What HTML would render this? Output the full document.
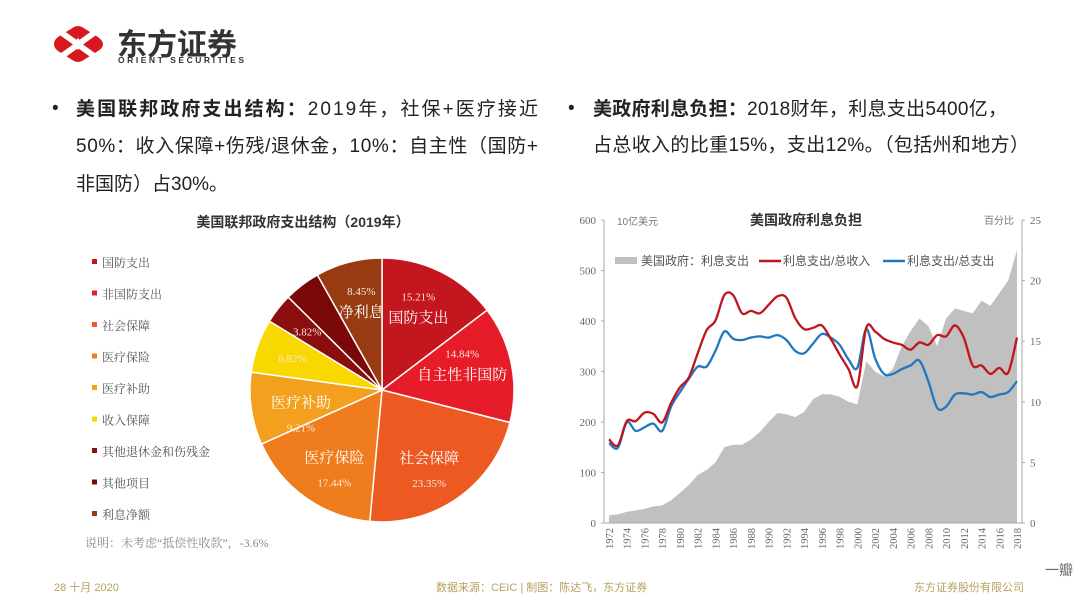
<!DOCTYPE html>
<html><head><meta charset="utf-8">
<style>
html,body{margin:0;padding:0;background:#fff;}
body{width:1080px;height:608px;overflow:hidden;font-family:"Liberation Sans","Noto Sans CJK SC",sans-serif;}
svg text{font-family:"Liberation Sans","Noto Sans CJK SC",sans-serif;}
.serif{font-family:"Liberation Serif","Noto Serif CJK SC",serif !important;}
</style></head>
<body>
<svg id="root" width="1080" height="608" viewBox="0 0 1080 608" xmlns="http://www.w3.org/2000/svg">
  <!-- logo -->
  <g>
    <path d="M54,44 Q54,40 58,37 L74,27 Q78,25 82,27 L98,37 Q103,41 103,44 Q103,48 98,51 L82,61 Q78,63 74,61 L58,51 Q54,48 54,44 Z" fill="#d7191f"/>
    <path d="M62,33 L94,56 M94,33 L62,56" stroke="#fff" stroke-width="6"/>
    <path d="M78,38 L83,44 L78,50 L73,44 Z" fill="#fff"/>
    <text x="117" y="55" font-size="30" font-weight="bold" fill="#333">东方证券</text>
    <text x="118" y="63" font-size="8.5" font-weight="bold" fill="#333" textLength="126">ORIENT SECURITIES</text>
  </g>

  <!-- left bullet -->
  <g font-size="19" fill="#222">
    <text x="52" y="114">•</text>
    <text x="76" y="115" textLength="462"><tspan font-weight="bold">美国联邦政府支出结构：</tspan>2019年，社保+医疗接近</text>
    <text x="76" y="152" textLength="462">50%：收入保障+伤残/退休金，10%：自主性（国防+</text>
    <text x="76" y="190">非国防）占30%。</text>
  </g>
  <!-- right bullet -->
  <g font-size="19" fill="#222">
    <text x="568" y="114">•</text>
    <text x="593" y="115" textLength="414"><tspan font-weight="bold">美政府利息负担：</tspan>2018财年，利息支出5400亿，</text>
    <text x="593" y="151" textLength="436">占总收入的比重15%，支出12%。（包括州和地方）</text>
  </g>

  <!-- pie chart -->
  <g id="pie">
    <text x="303" y="227" font-size="14" font-weight="bold" fill="#333" text-anchor="middle">美国联邦政府支出结构（2019年）</text>
    <g id="pieSlices"></g>
    <g id="pieLegend"></g>
    <text x="85" y="547" font-size="12" fill="#888" class="serif">说明：未考虑“抵偿性收款”，-3.6%</text>
  </g>

  <!-- line chart -->
  <g id="lc">
    <text x="806" y="225" font-size="14" font-weight="bold" fill="#333" text-anchor="middle">美国政府利息负担</text>
    <text x="617" y="225" font-size="10" fill="#777">10亿美元</text>
    <text x="1014" y="224" font-size="10" fill="#777" text-anchor="end">百分比</text>
    <g id="lcArea"></g>
    <g id="lcAxes"></g>
    <g id="lcLines"></g>
    <g font-size="12" fill="#555">
      <g><rect x="615" y="257" width="22" height="7" fill="#c0c0c0"/><text x="641" y="265">美国政府：利息支出</text></g>
      <g><line x1="759" y1="261" x2="781" y2="261" stroke="#c0151c" stroke-width="2.5"/><text x="783" y="265">利息支出/总收入</text></g>
      <g><line x1="883" y1="261" x2="905" y2="261" stroke="#1f78c1" stroke-width="2.5"/><text x="907" y="265">利息支出/总支出</text></g>
    </g>
  </g>

  <!-- footer -->
  <text x="54" y="591" font-size="11" fill="#b8a060">28 十月 2020</text>
  <text x="436" y="591" font-size="11" fill="#b8a060">数据来源：CEIC | 制图：陈达飞，东方证券</text>
  <text x="914" y="591" font-size="11" fill="#b8a060">东方证券股份有限公司</text>
  <text x="1045" y="575" font-size="14" fill="#666">一瓣</text>
</svg>
<script>
// ---------- pie data ----------
const pieLabels = ["国防支出","非国防支出","社会保障","医疗保险","医疗补助","收入保障","其他退休金和伤残金","其他项目","利息净额"];
const pieValues = [15.21,14.84,23.35,17.44,9.21,6.82,3.82,4.6,8.45];
const pieInnerNames = ["国防支出","自主性非国防","社会保障","医疗保险","医疗补助","","","","净利息"];
const pieColors = ["#c3161f","#e61c28","#ec5a22","#ef7d1e","#f4a01f","#f8d800","#8a0d0f","#7a0808","#983a12"];

const NS="http://www.w3.org/2000/svg";
function mk(tag,attrs,parent){const e=document.createElementNS(NS,tag);for(const k in attrs)e.setAttribute(k,attrs[k]);parent.appendChild(e);return e;}

(function(){
  const g=document.getElementById('pieSlices');
  const cx=382,cy=390,r=132;
  const total=pieValues.reduce((a,b)=>a+b,0);
  let a0=-Math.PI/2;
  pieValues.forEach((v,i)=>{
    const a1=a0+v/total*2*Math.PI;
    const x0=cx+r*Math.cos(a0),y0=cy+r*Math.sin(a0),x1=cx+r*Math.cos(a1),y1=cy+r*Math.sin(a1);
    const large=(a1-a0)>Math.PI?1:0;
    const p=mk('path',{d:`M${cx},${cy} L${x0},${y0} A${r},${r} 0 ${large} 1 ${x1},${y1} Z`,fill:pieColors[i],stroke:'#fff','stroke-width':1.5},g);
    
    
    const am=(a0+a1)/2;
    const hasName=pieInnerNames[i]!=="";
    const rr=hasName?0.62*r:0.72*r;
    const lx=cx+rr*Math.cos(am),ly=cy+rr*Math.sin(am);
    if(hasName){
      const t=mk('text',{x:lx,y:ly+6,'font-size':15,fill:'#fff','text-anchor':'middle',class:'serif'},g);
      t.textContent=pieInnerNames[i];
      
      
    }
    const t2=mk('text',{x:lx,y:hasName?(i===0||i===8||i===1?ly-16:ly+30):ly+4,'font-size':11,fill:'#fbe6d8','text-anchor':'middle',class:'serif'},g);
    t2.textContent=(i===7)?'':v.toFixed(2)+'%';
    
    
    a0=a1;
  });
  const lg=document.getElementById('pieLegend');
  pieLabels.forEach((l,i)=>{
    const y=263+i*31.5;
    const e=mk('g',{},lg);
    
    
    mk('rect',{x:92,y:y-4,width:5,height:5,fill:pieColors[i]},e);
    const t=mk('text',{x:102,y:y+4,'font-size':12,fill:'#555',class:'serif'},e);
    t.textContent=l;
  });
})();

// ---------- line chart data ----------
const years = [1972,1973,1974,1975,1976,1977,1978,1979,1980,1981,1982,1983,1984,1985,1986,1987,1988,1989,1990,1991,1992,1993,1994,1995,1996,1997,1998,1999,2000,2001,2002,2003,2004,2005,2006,2007,2008,2009,2010,2011,2012,2013,2014,2015,2016,2017,2018];
const interestSpending = [15,17,22,25,28,33,35,45,60,75,95,105,120,150,155,155,165,180,200,218,215,210,220,245,255,255,250,240,235,320,300,290,305,350,380,405,390,350,405,425,420,415,440,430,455,480,540];
const ratioRevenue = [6.9,6.4,8.4,8.4,9.1,9.0,8.3,9.9,11.2,12.0,14.0,15.9,16.7,18.8,18.8,17.3,17.5,17.3,18.0,18.7,18.6,16.9,16.0,16.1,16.3,15.2,13.9,12.7,11.3,16.1,15.8,15.2,14.9,14.7,14.3,14.9,14.7,15.5,15.4,16.3,15.3,13.0,13.0,12.3,12.8,12.4,15.3];
const ratioExpenditure = [6.6,6.2,8.3,7.6,7.9,8.2,7.6,9.6,10.8,11.9,12.9,12.9,14.2,15.8,15.2,15.1,15.3,15.4,15.3,15.5,15.1,14.2,14.0,14.8,15.6,15.3,14.7,13.5,12.8,16.0,13.6,12.3,12.3,12.7,13.0,13.4,11.7,9.5,9.6,10.6,10.7,10.6,10.8,10.4,10.6,10.8,11.7];
const leftTicks = [0,100,200,300,400,500,600];
const rightTicks = [0,5,10,15,20,25];

(function(){
  const X0=609,X1=1017,Y0=523,Y1=220;
  const xs=i=>X0+i*(X1-X0)/(years.length-1);
  const yl=v=>Y0-v/600*(Y0-Y1);
  const yr=v=>Y0-v/25*(Y0-Y1);
  const ag=document.getElementById('lcArea');
  let d=`M${xs(0)},${Y0}`;
  interestSpending.forEach((v,i)=>d+=` L${xs(i)},${yl(v)}`);
  d+=` L${xs(years.length-1)},${Y0} Z`;
  const ar=mk('path',{d:d,fill:'#c0c0c0'},ag);
  
  

  const ax=document.getElementById('lcAxes');
  mk('line',{x1:604,y1:Y1,x2:604,y2:Y0,stroke:'#aaa'},ax);
  mk('line',{x1:1022,y1:Y1,x2:1022,y2:Y0,stroke:'#aaa'},ax);
  mk('line',{x1:604,y1:Y0,x2:1022,y2:Y0,stroke:'#aaa'},ax);
  leftTicks.forEach(v=>{
    mk('line',{x1:601,y1:yl(v),x2:604,y2:yl(v),stroke:'#aaa'},ax);
    const t=mk('text',{x:596,y:yl(v)+4,'font-size':11,fill:'#666','text-anchor':'end',class:'serif'},ax);
    t.textContent=v;
    
    
  });
  rightTicks.forEach(v=>{
    mk('line',{x1:1022,y1:yr(v),x2:1025,y2:yr(v),stroke:'#aaa'},ax);
    const t=mk('text',{x:1030,y:yr(v)+4,'font-size':11,fill:'#666',class:'serif'},ax);
    t.textContent=v;
    
    
  });
  years.forEach((y,i)=>{
    if(i%2)return;
    const t=mk('text',{x:0,y:0,'font-size':10.5,fill:'#666','text-anchor':'end',class:'serif',transform:`translate(${xs(i)+4},${Y0+5}) rotate(-90)`},ax);
    t.textContent=y;
    
    
  });

  const lg=document.getElementById('lcLines');
  function line(arr,color,name){
    const pts=arr.map((v,i)=>[xs(i),yr(v)]);
    let p='M'+pts[0][0]+','+pts[0][1];
    for(let i=0;i<pts.length-1;i++){
      const p0=pts[Math.max(0,i-1)],p1=pts[i],p2=pts[i+1],p3=pts[Math.min(pts.length-1,i+2)];
      const c1=[p1[0]+(p2[0]-p0[0])/6,p1[1]+(p2[1]-p0[1])/6];
      const c2=[p2[0]-(p3[0]-p1[0])/6,p2[1]-(p3[1]-p1[1])/6];
      p+=` C${c1[0]},${c1[1]} ${c2[0]},${c2[1]} ${p2[0]},${p2[1]}`;
    }
    const e=mk('path',{d:p,fill:'none',stroke:color,'stroke-width':2.3,'stroke-linejoin':'round'},lg);
    
    
  }
  line(ratioExpenditure,'#1f78c1','line-interest-to-expenditure');
  line(ratioRevenue,'#c0151c','line-interest-to-revenue');
})();
</script>
</body></html>
